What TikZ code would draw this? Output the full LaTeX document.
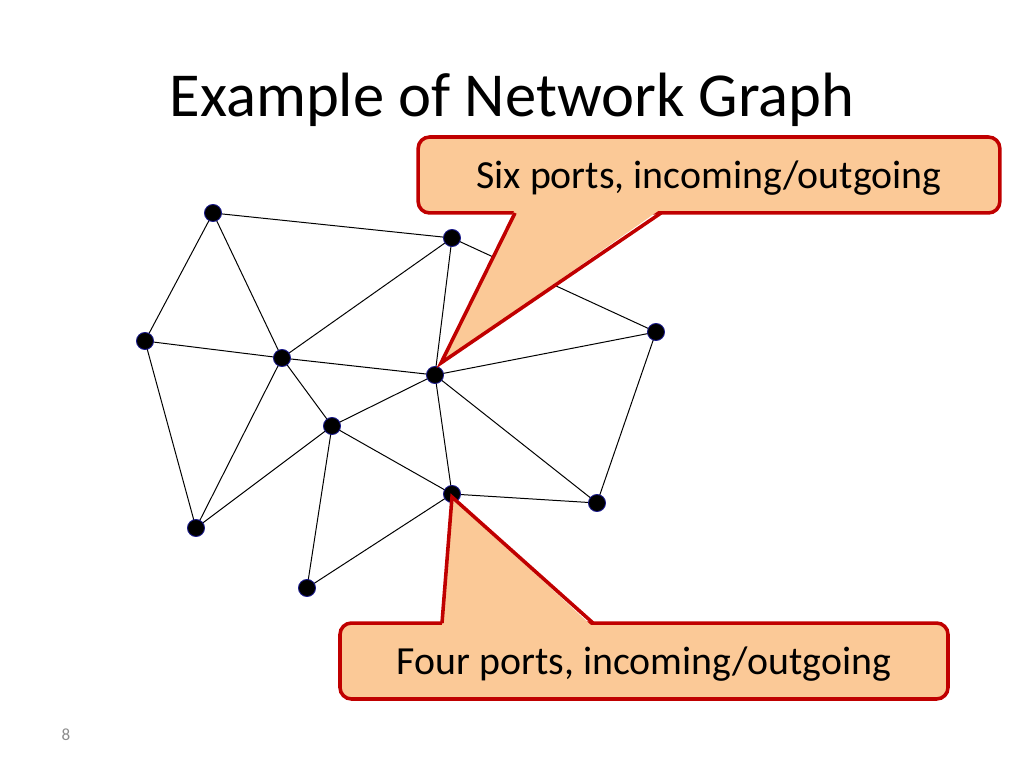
\documentclass[tikz,border=0pt]{standalone}
\usepackage{fontspec}
\setmainfont{Carlito}
\definecolor{peach}{HTML}{FBC997}
\definecolor{calred}{HTML}{C00000}
\definecolor{nodeblue}{HTML}{1A1A8C}
\begin{document}
\begin{tikzpicture}[x=0.703125pt,y=-0.703125pt,
  vtx/.style={circle,fill=black,draw=nodeblue,line width=0.6pt,inner sep=0pt,minimum size=12pt},
  edge/.style={draw=black,line width=0.7pt},
  callout/.style={draw=calred,fill=peach,line width=2.5pt,rounded corners=8pt,inner sep=0pt,
    font=\fontsize{28}{34}\selectfont},
  pointer/.style={draw=calred,line width=2.5pt,line join=miter},
  ]
\useasboundingbox (0,0) rectangle (1024,768);
\node (title) at (512,100) {\fontsize{44}{52}\selectfont Example of Network Graph};
\node[text=gray!90] (pg) at (66,735) {\fontsize{12}{14}\selectfont 8};
% vertices
\coordinate (A) at (213,213);
\coordinate (B) at (452,238);
\coordinate (C) at (145,341);
\coordinate (D) at (282,358);
\coordinate (E) at (435,375);
\coordinate (F) at (656,332);
\coordinate (G) at (332,426);
\coordinate (H) at (452,494);
\coordinate (I) at (597,503);
\coordinate (J) at (196,528);
\coordinate (K) at (307,588);
% edges
\path[edge] (A)--(B) (A)--(C) (A)--(D)
  (B)--(D) (B)--(E) (B)--(F)
  (C)--(D) (C)--(J)
  (D)--(E) (D)--(G) (D)--(J)
  (E)--(F) (E)--(G) (E)--(H) (E)--(I)
  (G)--(J) (G)--(K) (G)--(H)
  (H)--(I) (H)--(K) (F)--(I);
\foreach \v in {A,B,C,D,E,F,G,H,I,J,K} \node[vtx] (n\v) at (\v) {};
% callout 1
\node[callout,minimum width=409pt,minimum height=53.4pt,text depth=0pt] (c1) at (709,175) {Six ports, incoming/outgoing};
\coordinate (t1) at (441,363);
\coordinate (l1) at (515,213);
\coordinate (r1) at (661,213);
\fill[peach] (t1) -- ([yshift=2.8pt]l1) -- ([yshift=2.8pt]r1) -- cycle;
\draw[pointer] (l1) -- (t1) -- (r1);
% callout 2
\node[callout,minimum width=427.5pt,minimum height=53.4pt,text depth=0pt] (c2) at (644,661) {Four ports, incoming/outgoing};
\coordinate (t2) at (452,497);
\coordinate (l2) at (442,623);
\coordinate (r2) at (593,623);
\fill[peach] (t2) -- ([yshift=-2.8pt]l2) -- ([yshift=-2.8pt]r2) -- cycle;
\draw[pointer] (l2) -- (t2) -- (r2);
\end{tikzpicture}
\end{document}
